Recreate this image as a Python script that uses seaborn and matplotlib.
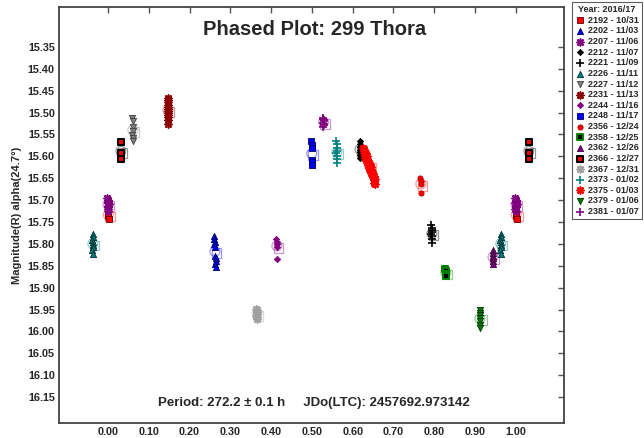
import numpy as np
import pandas as pd
import matplotlib
matplotlib.use("Agg")
import matplotlib.pyplot as plt
import seaborn as sns

# ---------------- data ----------------
labels = ["2192 - 10/31", "2202 - 11/03", "2207 - 11/06", "2212 - 11/07", "2221 - 11/09",
          "2226 - 11/11", "2227 - 11/12", "2231 - 11/13", "2244 - 11/16", "2248 - 11/17",
          "2356 - 12/24", "2358 - 12/25", "2362 - 12/26", "2366 - 12/27", "2367 - 12/31",
          "2373 - 01/02", "2375 - 01/03", "2379 - 01/06", "2381 - 01/07"]

p2192 = [0.000, 0.001, 0.000, 0.002]
m2192 = [15.723, 15.730, 15.737, 15.744]
p2202 = [0.259, 0.261, 0.262, 0.260, 0.263, 0.262, 0.264, 0.265, 0.263, 0.264]
m2202 = [15.783, 15.789, 15.795, 15.801, 15.808, 15.827, 15.833, 15.839, 15.845, 15.852]
p2207 = [-0.002, 0.000, 0.001, -0.001, 0.002, 0.000, 0.001, -0.001, 0.000]
m2207 = [15.696, 15.700, 15.704, 15.707, 15.710, 15.713, 15.716, 15.720, 15.724]
p2212 = [0.617, 0.618, 0.619, 0.618, 0.617, 0.619, 0.618]
m2212 = [15.565, 15.572, 15.578, 15.585, 15.591, 15.597, 15.603]
p2221 = [0.793, 0.794, 0.795, 0.794, 0.793, 0.795, 0.794, 0.794]
m2221 = [15.757, 15.763, 15.768, 15.773, 15.778, 15.783, 15.789, 15.797]
p2226 = [0.963, 0.964, 0.962, 0.963, 0.964, 0.963, 0.962, 0.963]
m2226 = [15.778, 15.784, 15.790, 15.796, 15.802, 15.808, 15.815, 15.823]
p2227 = [0.060, 0.061, 0.062, 0.061, 0.060, 0.062, 0.061]
m2227 = [15.512, 15.520, 15.532, 15.542, 15.551, 15.558, 15.566]
p2231 = [0.146, 0.147, 0.148, 0.147, 0.146, 0.148, 0.147, 0.146, 0.148, 0.147, 0.147, 0.146]
m2231 = [15.466, 15.472, 15.477, 15.482, 15.487, 15.491, 15.496, 15.500, 15.505, 15.511, 15.518, 15.527]
p2244 = [0.413, 0.414, 0.415, 0.414, 0.414]
m2244 = [15.788, 15.795, 15.800, 15.806, 15.835]
p2248 = [0.498, 0.499, 0.500, 0.499, 0.501, 0.500]
m2248 = [15.566, 15.574, 15.581, 15.608, 15.614, 15.620]
p2356 = [0.766, 0.767, 0.768, 0.767]
m2356 = [15.650, 15.656, 15.664, 15.683]
p2358 = [0.827, 0.828, 0.829, 0.828]
m2358 = [15.857, 15.863, 15.869, 15.874]
p2362 = [0.943, 0.944, 0.945, 0.944, 0.943, 0.944]
m2362 = [15.815, 15.821, 15.827, 15.833, 15.840, 15.846]
p2366 = [0.031, 0.032, 0.032]
m2366 = [15.567, 15.592, 15.606]
p2367 = [0.364, 0.365, 0.366, 0.365, 0.364, 0.366, 0.365]
m2367 = [15.948, 15.952, 15.956, 15.960, 15.964, 15.968, 15.972]
p2373 = [0.560, 0.561, 0.562, 0.561, 0.560, 0.562, 0.561, 0.561]
m2373 = [15.565, 15.572, 15.580, 15.587, 15.593, 15.600, 15.607, 15.616]
p2375 = [0.626, 0.628, 0.630, 0.627, 0.632, 0.629, 0.634, 0.631, 0.636, 0.633,
         0.638, 0.635, 0.640, 0.637, 0.642, 0.639, 0.644, 0.641, 0.646, 0.643,
         0.648, 0.645, 0.650, 0.647, 0.652, 0.649, 0.654, 0.651, 0.653, 0.655]
m2375 = [15.582, 15.585, 15.589, 15.592, 15.595, 15.598, 15.600, 15.603, 15.605, 15.608,
         15.610, 15.612, 15.615, 15.617, 15.620, 15.622, 15.625, 15.627, 15.630, 15.632,
         15.635, 15.637, 15.640, 15.643, 15.646, 15.648, 15.652, 15.655, 15.660, 15.664]
p2379 = [0.911, 0.912, 0.913, 0.912, 0.911, 0.913, 0.912]
m2379 = [15.950, 15.957, 15.963, 15.970, 15.977, 15.985, 15.993]
p2381 = [0.527, 0.528, 0.529, 0.530, 0.528, 0.529, 0.530, 0.528]
m2381 = [15.512, 15.515, 15.518, 15.520, 15.523, 15.526, 15.529, 15.533]

phases = [p2192, p2202, p2207, p2212, p2221, p2226, p2227, p2231, p2244, p2248,
          p2356, p2358, p2362, p2366, p2367, p2373, p2375, p2379, p2381]
mags = [m2192, m2202, m2207, m2212, m2221, m2226, m2227, m2231, m2244, m2248,
        m2356, m2358, m2362, m2366, m2367, m2373, m2375, m2379, m2381]

xticks = [0.0, 0.1, 0.2, 0.3, 0.4, 0.5, 0.6, 0.7, 0.8, 0.9, 1.0]
yticks = [15.35, 15.40, 15.45, 15.50, 15.55, 15.60, 15.65, 15.70, 15.75, 15.80,
          15.85, 15.90, 15.95, 16.00, 16.05, 16.10, 16.15]

# ---------------- styles ----------------
AST = (8, 2, 0)
styles = [
    dict(marker="s", fc="#FF0000", ec="#600000", c="#FF0000", s=18, lw=0.6),   # 2192
    dict(marker="^", fc="#0000FF", ec="#000060", c="#0000FF", s=20, lw=0.6),   # 2202
    dict(marker=AST, fc="#800080", ec="#800080", c="#800080", s=24, lw=1.2),   # 2207
    dict(marker="D", fc="#000000", ec="#000000", c="#000000", s=10, lw=0.6),   # 2212
    dict(marker="+", fc="#000000", ec="#000000", c="#000000", s=30, lw=1.2),   # 2221
    dict(marker="^", fc="#008080", ec="#003030", c="#008080", s=20, lw=0.6),   # 2226
    dict(marker="v", fc="#808080", ec="#404040", c="#808080", s=20, lw=0.6),   # 2227
    dict(marker=AST, fc="#8B0000", ec="#8B0000", c="#8B0000", s=24, lw=1.2),   # 2231
    dict(marker="D", fc="#800080", ec="#800080", c="#800080", s=10, lw=0.6),   # 2244
    dict(marker="s", fc="#0000FF", ec="#000060", c="#0000FF", s=20, lw=0.6),   # 2248
    dict(marker="o", fc="#FF0000", ec="#B00000", c="#FF0000", s=14, lw=0.6),   # 2356
    dict(marker="s", fc="#000000", ec="#008000", c="#008000", s=20, lw=1.4),   # 2358
    dict(marker="^", fc="#800080", ec="#400040", c="#800080", s=20, lw=0.6),   # 2362
    dict(marker="s", fc="#FF0000", ec="#000000", c="#000000", s=22, lw=1.5),   # 2366
    dict(marker=AST, fc="#A0A0A0", ec="#A0A0A0", c="#A0A0A0", s=24, lw=1.2),   # 2367
    dict(marker="+", fc="#008080", ec="#008080", c="#008080", s=30, lw=1.2),   # 2373
    dict(marker=AST, fc="#FF0000", ec="#FF0000", c="#FF0000", s=24, lw=1.2),   # 2375
    dict(marker="v", fc="#008000", ec="#003000", c="#008000", s=20, lw=0.6),   # 2379
    dict(marker="+", fc="#800080", ec="#800080", c="#800080", s=30, lw=1.2),   # 2381
]

sns.set_style("white")
plt.rcParams["font.family"] = ["Liberation Sans", "DejaVu Sans"]
plt.rcParams["font.weight"] = "bold"

fig = plt.figure(figsize=(6.44, 4.38), dpi=100)
ax = fig.add_axes([59 / 644, 1 - 423 / 438, (564 - 59) / 644, (423 - 7) / 438])


def wrap(p, m):
    """Show phases in the overlap window as in the reference (p-1, p, p+1)."""
    xs, ys = [], []
    for pi, mi in zip(p, m):
        for k in (-1, 0, 1):
            q = pi + k
            if -0.05 <= q <= 1.05:
                xs.append(q)
                ys.append(mi)
    return pd.DataFrame({"phase": xs, "mag": ys})


for lab, p, m, st in zip(labels, phases, mags, styles):
    df = wrap(p, m)
    filled = st["marker"] not in ("+", AST)
    # hollow "mean" markers (circle + square) in a light tint
    mean_df = wrap([float(np.mean(p))], [float(np.mean(m))])
    sns.scatterplot(data=mean_df, x="phase", y="mag", ax=ax, marker="o", s=50,
                    facecolor="none", edgecolor=st["c"], alpha=0.4, linewidth=0.9,
                    legend=False, zorder=2)
    sq_df = mean_df.assign(phase=mean_df["phase"] + 0.004, mag=mean_df["mag"] + 0.004)
    sns.scatterplot(data=sq_df, x="phase", y="mag", ax=ax, marker="s", s=50,
                    facecolor="none", edgecolor=st["c"], alpha=0.4, linewidth=0.9,
                    legend=False, zorder=2)
    if filled:
        sns.scatterplot(data=df, x="phase", y="mag", ax=ax, marker=st["marker"], s=st["s"],
                        facecolor=st["fc"], edgecolor=st["ec"], linewidth=st["lw"],
                        label=lab, zorder=3)
    else:
        sns.scatterplot(data=df, x="phase", y="mag", ax=ax, marker=st["marker"], s=st["s"],
                        color=st["c"], linewidth=st["lw"], label=lab, zorder=3)

ax.set_xlim(-0.12, 1.118)
ax.set_ylim(16.209, 15.259)
ax.set_xticks(xticks)
ax.set_xticklabels([f"{v:.2f}" for v in xticks])
ax.set_yticks(yticks)
ax.set_yticklabels([f"{v:.2f}" for v in yticks])
ax.tick_params(axis="both", direction="in", length=4, width=1, color="#555555",
               labelsize=7.8, top=True, right=True, labeltop=False, labelright=False,
               pad=3)
for lbl in ax.get_xticklabels() + ax.get_yticklabels():
    lbl.set_fontweight("bold")
for sp in ax.spines.values():
    sp.set_color("#444444")
    sp.set_linewidth(1.3)
    sp.set_visible(True)

ax.set_xlabel("")
ax.set_ylabel("Magnitude(R) alpha(24.7°)", fontsize=8, fontweight="bold", labelpad=4)

ax.text(0.507, 0.945, "Phased Plot: 299 Thora", transform=ax.transAxes,
        ha="center", va="center", fontsize=14.5, fontweight="bold")
ax.text(0.505, 0.048, "Period: 272.2 \u00b1 0.1 h     JDo(LTC): 2457692.973142",
        transform=ax.transAxes, ha="center", va="center", fontsize=9.5, fontweight="bold")

handles, labs = ax.get_legend_handles_labels()
if ax.get_legend() is not None:
    ax.get_legend().remove()
leg = fig.legend(handles, labs, loc="upper left", bbox_to_anchor=(572 / 644, 1 - 2 / 438),
                 title="Year: 2016/17", fontsize=6.5, title_fontsize=6.5,
                 frameon=True, fancybox=False, edgecolor="#333333", labelspacing=0.18,
                 handletextpad=0.4, handlelength=1.0, borderpad=0.35, markerscale=1.0,
                 borderaxespad=0)
leg.get_frame().set_linewidth(0.8)
leg.get_title().set_fontweight("bold")
for t in leg.get_texts():
    t.set_fontweight("bold")

fig.savefig("out.png", dpi=100)
